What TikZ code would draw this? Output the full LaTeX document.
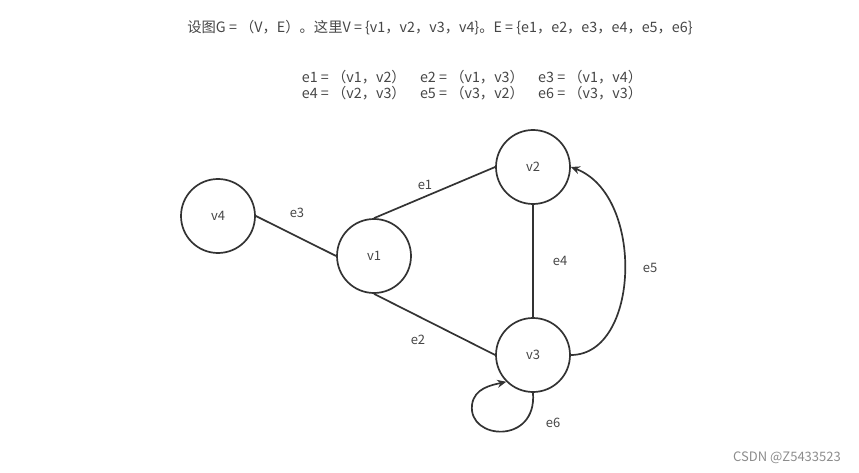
\documentclass[tikz,border=0pt]{standalone}
\usepackage{fontspec}
\setmainfont{Noto Sans CJK SC}
\usepackage{tikz}
\usetikzlibrary{arrows.meta,positioning}
\definecolor{linegray}{RGB}{51,51,51}
\definecolor{textgray}{RGB}{70,70,70}

\begin{document}
\begin{tikzpicture}[x=1pt, y=-1pt,
    vert/.style={draw=linegray, circle, line width=1.7pt, minimum size=74pt, inner sep=0pt, font=\fontsize{13}{15}\selectfont, text=textgray},
    lbl/.style={font=\fontsize{13}{15}\selectfont, text=textgray},
    head/.style={font=\fontsize{14.3}{17}\selectfont, text=textgray},
    edge/.style={draw=linegray, line width=1.7pt},
    arr/.style={edge, -{Stealth[length=9pt, width=8pt]}}
]
\useasboundingbox (0,0) rectangle (859,473);

\node[head] (title) at (440,28) {设图G = （V，E）。这里V = \{v1，v2，v3，v4\}。E = \{e1，e2，e3，e4，e5，e6\}};
\node[head, align=left] (edges) at (472,85) {e1 = （v1，v2）\quad e2 = （v1，v3）\quad e3 = （v1，v4）\\[-1pt]e4 = （v2，v3）\quad e5 = （v3，v2）\quad e6 = （v3，v3）};

\node[vert] (v4) at (218,216) {v4};
\node[vert] (v1) at (374,256) {v1};
\node[vert] (v2) at (533,167) {v2};
\node[vert] (v3) at (533,355) {v3};

\draw[edge] (v4.east) -- (v1.west);
\draw[edge] (v1.north) -- (v2.west);
\draw[edge] (v1.south) -- (v3.west);
\draw[edge] (v2.south) -- (v3.north);
\draw[arr] (v3.east) .. controls (640,355) and (645,195) .. (v2.east);
\draw[arr] (v3.south) .. controls (537,445) and (468,440) .. (472,405) .. controls (474,388) and (492,385) .. (v3.south west);

\node[lbl] (e1) at (425,185) {e1};
\node[lbl] (e3) at (297,213) {e3};
\node[lbl] (e2) at (418,340) {e2};
\node[lbl] (e4) at (560,261) {e4};
\node[lbl] (e5) at (650,268) {e5};
\node[lbl] (e6) at (553,423) {e6};

\node[font=\fontsize{13}{15}\selectfont, text=black!45] (mark) at (787,458) {CSDN @Z5433523};
\end{tikzpicture}
\end{document}
